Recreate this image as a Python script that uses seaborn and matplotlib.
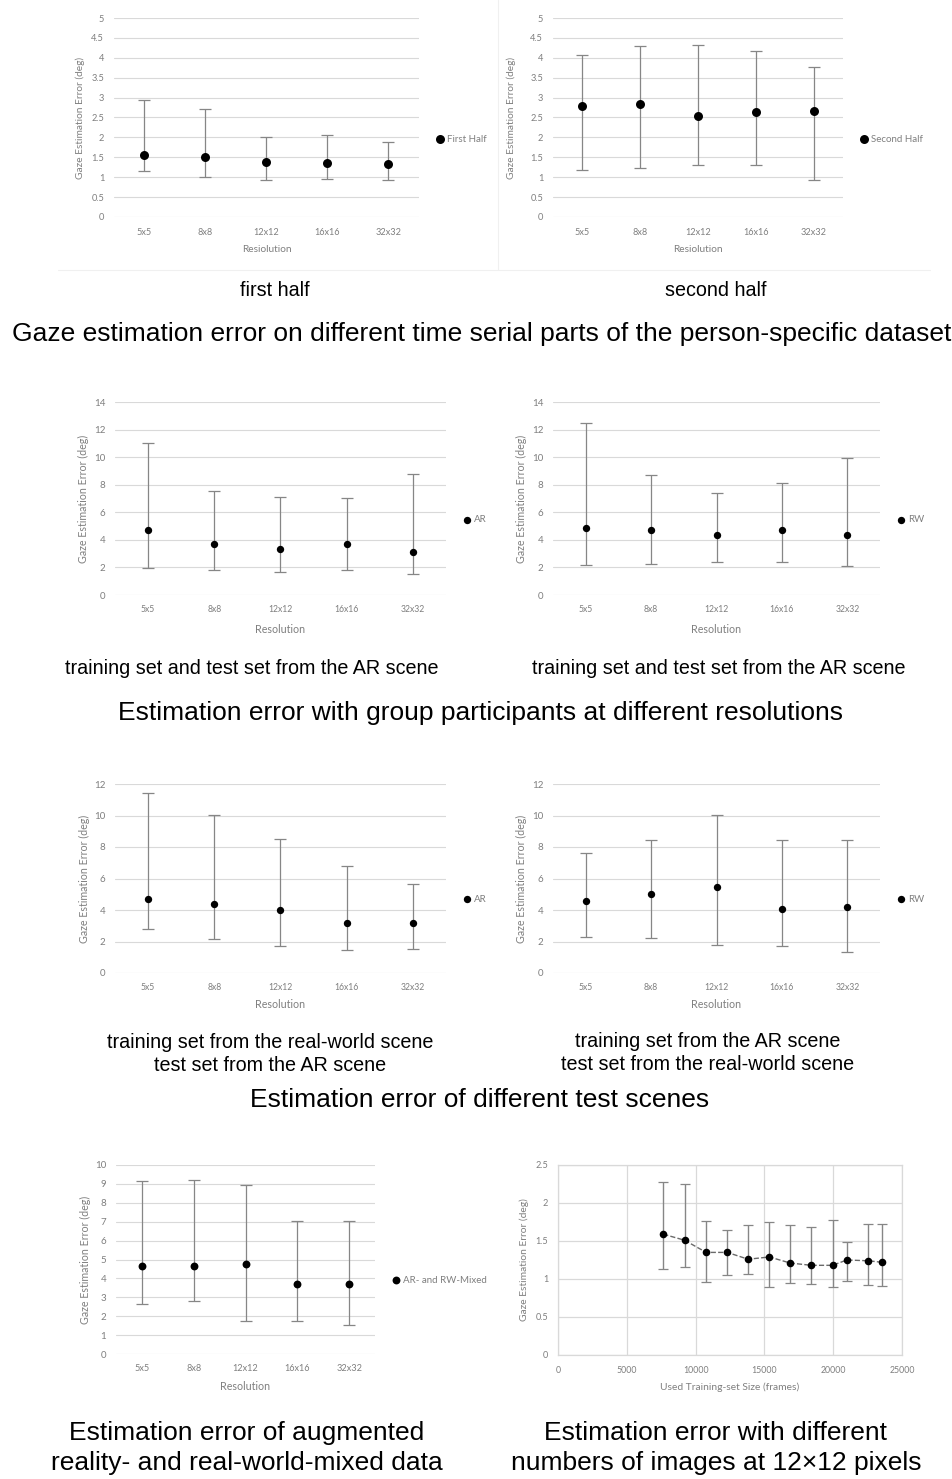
import numpy as np
import pandas as pd
import matplotlib
matplotlib.use('Agg')
import matplotlib.pyplot as plt
import seaborn as sns
from matplotlib.lines import Line2D

resolutions = ['5x5', '8x8', '12x12', '16x16', '32x32']

# person-specific set, first / second half
first_mean = [1.57, 1.52, 1.39, 1.36, 1.34]
first_low = [1.16, 1.01, 0.94, 0.95, 0.94]
first_high = [2.94, 2.71, 2.02, 2.05, 1.88]

second_mean = [2.80, 2.85, 2.54, 2.64, 2.66]
second_low = [1.18, 1.23, 1.31, 1.31, 0.94]
second_high = [4.08, 4.29, 4.33, 4.16, 3.78]

# group participants, AR / RW
grp_ar_mean = [4.75, 3.67, 3.33, 3.67, 3.14]
grp_ar_low = [1.98, 1.79, 1.64, 1.79, 1.52]
grp_ar_high = [11.05, 7.53, 7.12, 7.07, 8.76]

grp_rw_mean = [4.83, 4.68, 4.34, 4.75, 4.34]
grp_rw_low = [2.20, 2.27, 2.41, 2.41, 2.12]
grp_rw_high = [12.48, 8.69, 7.41, 8.16, 9.94]

# different test scenes
scene_ar_mean = [4.73, 4.37, 3.99, 3.20, 3.20]
scene_ar_low = [2.82, 2.18, 1.72, 1.48, 1.53]
scene_ar_high = [11.41, 10.03, 8.50, 6.81, 5.62]

scene_rw_mean = [4.58, 5.00, 5.47, 4.05, 4.18]
scene_rw_low = [2.29, 2.23, 1.76, 1.72, 1.34]
scene_rw_high = [7.63, 8.44, 10.03, 8.44, 8.44]

# mixed data
mixed_mean = [4.63, 4.68, 4.74, 3.68, 3.68]
mixed_low = [2.66, 2.78, 1.74, 1.74, 1.55]
mixed_high = [9.17, 9.21, 8.93, 7.06, 7.02]

# training set size at 12x12
train_size = [7650, 9200, 10770, 12300, 13820, 15360, 16880, 18410, 19950, 20990, 22540, 23550]
size_mean = [1.59, 1.51, 1.35, 1.35, 1.26, 1.29, 1.21, 1.18, 1.18, 1.25, 1.24, 1.22]
size_low = [1.13, 1.16, 0.96, 1.05, 1.07, 0.90, 0.95, 0.93, 0.89, 0.97, 0.92, 0.91]
size_high = [2.27, 2.25, 1.76, 1.65, 1.71, 1.75, 1.71, 1.68, 1.77, 1.49, 1.73, 1.72]

sns.set_style('white')
plt.rcParams['font.family'] = ['Lato', 'DejaVu Sans']

W, H = 953, 1479
fig = plt.figure(figsize=(W / 100, H / 100), dpi=100)

TXT = '#7f7f7f'
GRID = '#d9d9d9'
ERR = '#868686'
YLAB = 'Gaze Estimation Error (deg)'


def px_axes(l, r, t, b):
    return fig.add_axes([l / W, 1 - b / H, (r - l) / W, (b - t) / H])


def style_axes(ax, box, ymax, ystep, xtick_fs, ytick_fs, lab_fs, ylab_px, xlab_px, xpad):
    l, r, t, b = box
    ax.set_ylim(0, ymax)
    ax.set_yticks(np.arange(0, ymax + ystep / 2, ystep))
    ax.yaxis.set_major_formatter(matplotlib.ticker.FuncFormatter(lambda v, p: f'{v:g}'))
    ax.tick_params(length=0, colors=TXT, pad=7)
    ax.tick_params(axis='x', pad=xpad, labelsize=xtick_fs)
    ax.tick_params(axis='y', labelsize=ytick_fs)
    ax.set_ylabel(YLAB, fontsize=lab_fs, color=TXT)
    ax.yaxis.set_label_coords((ylab_px - l) / (r - l), 0.5)
    ax.xaxis.set_label_coords(0.5, -(xlab_px - b) / (b - t))
    ax.xaxis.label.set_va('center')


def res_panel(box, mean, low, high, name, ymax, ystep, xtick_fs=6.2, ytick_fs=7,
              lab_fs=7.7, leg_fs=7, dot=28, ylab_px=0, xlab_px=0, xpad=7,
              xlabel='Resolution'):
    ax = px_axes(*box)
    df = pd.DataFrame({'res': resolutions, 'err': mean, 'low': low, 'high': high})
    sns.scatterplot(data=df, x='res', y='err', color='black', s=dot, linewidth=0,
                    label=name, ax=ax, zorder=3)
    ax.errorbar(df['res'], df['err'], yerr=[df['err'] - df['low'], df['high'] - df['err']],
                fmt='none', ecolor=ERR, elinewidth=0.9, capsize=4, capthick=0.9, zorder=2)
    ax.set_xlim(-0.5, len(resolutions) - 0.5)
    ax.grid(axis='y', color=GRID, lw=0.8)
    ax.grid(axis='x', visible=False)
    for s in ax.spines.values():
        s.set_visible(False)
    ax.set_xlabel(xlabel, fontsize=lab_fs, color=TXT)
    style_axes(ax, box, ymax, ystep, xtick_fs, ytick_fs, lab_fs, ylab_px, xlab_px, xpad)
    wpx = box[1] - box[0]
    ax.legend(loc='center left', bbox_to_anchor=(1 + 12 / wpx, 0.39), frameon=False,
              fontsize=leg_fs, handletextpad=0.25, handlelength=1.0, borderaxespad=0,
              labelcolor=TXT, markerscale=1.0)
    return ax


# row 1
res_panel((114, 419, 18, 217), first_mean, first_low, first_high, 'First Half', 5, 0.5,
          xtick_fs=6.6, ytick_fs=6.7, lab_fs=7.3, dot=42, ylab_px=85, xlab_px=249, xpad=8,
          xlabel='Resiolution')
res_panel((553, 843, 18, 217), second_mean, second_low, second_high, 'Second Half', 5, 0.5,
          xtick_fs=6.6, ytick_fs=6.7, lab_fs=7.3, dot=42, ylab_px=516, xlab_px=249, xpad=8,
          xlabel='Resiolution')

# row 2
res_panel((115, 446, 402, 595), grp_ar_mean, grp_ar_low, grp_ar_high, 'AR', 14, 2,
          ylab_px=89, xlab_px=629)
res_panel((553, 880, 402, 595), grp_rw_mean, grp_rw_low, grp_rw_high, 'RW', 14, 2,
          ylab_px=527, xlab_px=629)

# row 3
res_panel((115, 446, 784, 973), scene_ar_mean, scene_ar_low, scene_ar_high, 'AR', 12, 2,
          ylab_px=90, xlab_px=1005)
res_panel((553, 880, 784, 973), scene_rw_mean, scene_rw_low, scene_rw_high, 'RW', 12, 2,
          ylab_px=527, xlab_px=1005)

# row 4 left
res_panel((116, 375, 1165, 1354), mixed_mean, mixed_low, mixed_high, 'AR- and RW-Mixed', 10, 1,
          xtick_fs=6.6, ytick_fs=7, lab_fs=7.7, dot=32, ylab_px=91, xlab_px=1387)

# row 4 right: training-set size
box8 = (558, 902, 1165, 1355)
ax8 = px_axes(*box8)
size_df = pd.DataFrame({'size': train_size, 'err': size_mean, 'low': size_low, 'high': size_high})
sns.lineplot(data=size_df, x='size', y='err', color='#6a6a6a', lw=1.0, linestyle='--',
             ax=ax8, zorder=2)
ax8.errorbar(size_df['size'], size_df['err'],
             yerr=[size_df['err'] - size_df['low'], size_df['high'] - size_df['err']],
             fmt='none', ecolor=ERR, elinewidth=1.0, capsize=3.3, capthick=0.9, zorder=2)
sns.scatterplot(data=size_df, x='size', y='err', color='black', s=30, linewidth=0,
                ax=ax8, zorder=3)
ax8.set_xlim(0, 25000)
ax8.set_xticks(np.arange(0, 25001, 5000))
ax8.grid(True, color=GRID, lw=0.9)
for s in ax8.spines.values():
    s.set_color(GRID)
    s.set_linewidth(0.9)
ax8.set_xlabel('Used Training-set Size (frames)', fontsize=7.4, color=TXT)
style_axes(ax8, box8, 2.5, 0.5, 6.3, 6.6, 7.4, 529, 1387, 8)

# faint chart-area borders around the top row
fig.add_artist(Line2D([58 / W, 930 / W], [1 - 270 / H] * 2, color='#f0f0f0', lw=0.8))
fig.add_artist(Line2D([498 / W] * 2, [1, 1 - 270 / H], color='#f0f0f0', lw=0.8))

# captions
cap = dict(family=['Liberation Sans', 'DejaVu Sans'], color='black', ha='center', va='center')


def ftext(x, y, s, size, **kw):
    fig.text(x / W, 1 - y / H, s, fontsize=size, **cap, **kw)


ftext(275, 290, 'first half', 14.2)
ftext(716, 290, 'second half', 14.2)
ftext(482, 334, 'Gaze estimation error on different time serial parts of the person-specific dataset', 19)

ftext(252, 669, 'training set and test set from the AR scene', 14.2)
ftext(719, 669, 'training set and test set from the AR scene', 14.2)
ftext(481, 713, 'Estimation error with group participants at different resolutions', 19)

ftext(270, 1054, 'training set from the real-world scene\ntest set from the AR scene', 14.2,
      linespacing=1.3)
ftext(708, 1053, 'training set from the AR scene\ntest set from the real-world scene', 14.2,
      linespacing=1.3)
ftext(480, 1100, 'Estimation error of different test scenes', 19)

ftext(247, 1448, 'Estimation error of augmented\nreality- and real-world-mixed data', 19,
      linespacing=1.33)
ftext(716, 1448, 'Estimation error with different\nnumbers of images at 12×12 pixels', 19,
      linespacing=1.33)

fig.savefig('out.png', dpi=100, facecolor='white')
